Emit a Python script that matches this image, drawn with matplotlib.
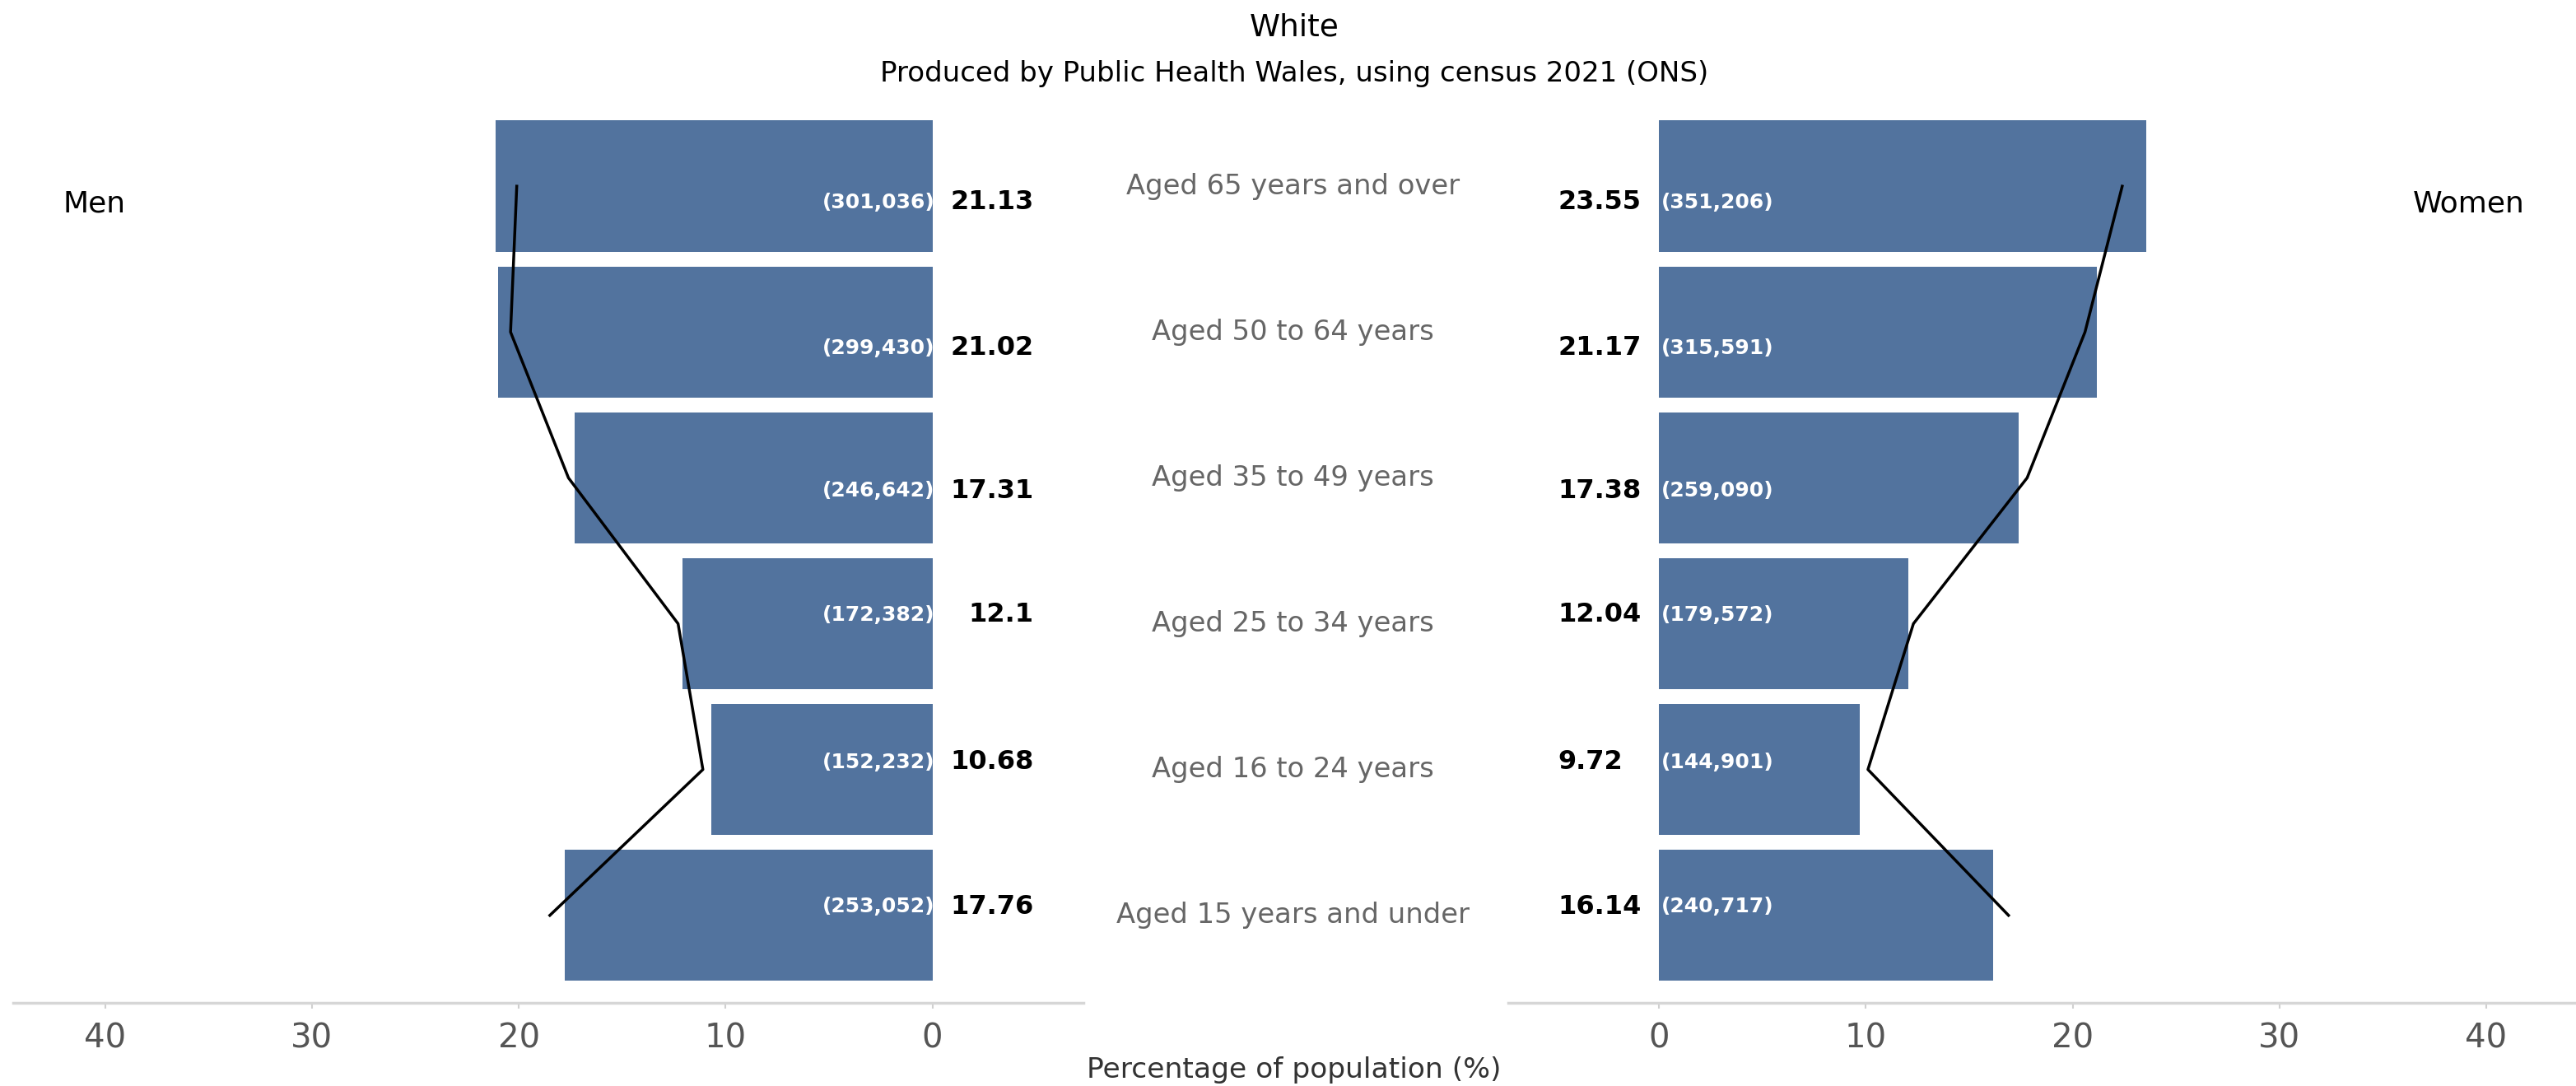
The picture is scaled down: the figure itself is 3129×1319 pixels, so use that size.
import numpy as np
import matplotlib.pyplot as plt
from matplotlib.transforms import blended_transform_factory

# rows listed top to bottom
ages = ["Aged 65 years and over", "Aged 50 to 64 years", "Aged 35 to 49 years",
        "Aged 25 to 34 years", "Aged 16 to 24 years", "Aged 15 years and under"]
men_pct = [21.13, 21.02, 17.31, 12.1, 10.68, 17.76]
men_count = [301036, 299430, 246642, 172382, 152232, 253052]
women_pct = [23.55, 21.17, 17.38, 12.04, 9.72, 16.14]
women_count = [351206, 315591, 259090, 179572, 144901, 240717]
# comparison line (black)
men_line = [20.1, 20.4, 17.6, 12.3, 11.1, 18.5]
women_line = [22.4, 20.6, 17.8, 12.3, 10.1, 16.9]
ticks = [0, 10, 20, 30, 40]

bar_col = "#52739e"
y = np.arange(len(ages))[::-1]
nudge = [-0.11, -0.11, -0.09, 0.06, 0.05, 0.06]  # label offsets seen in the reference

W, H = 3129, 1319
fig = plt.figure(figsize=(W / 100, H / 100), dpi=100)

bottom = (H - 1218) / H
height = (1218 - 137.6) / H
axL = fig.add_axes([16 / W, bottom, 1300 / W, height])
axR = fig.add_axes([1832 / W, bottom, 1297 / W, height])

for ax, pct, cnt, line, side in [(axL, men_pct, men_count, men_line, "L"),
                                 (axR, women_pct, women_count, women_line, "R")]:
    ax.barh(y, pct, height=0.9, color=bar_col)
    ax.plot(line, y, color="black", lw=2.5, zorder=3)
    for yi, p, c, dn in zip(y, pct, cnt, nudge):
        if side == "L":
            ax.text(-0.1, yi + dn, f"({c:,})", ha="right", va="center",
                    color="white", fontsize=18, fontweight="bold")
            ax.text(-4.9, yi + dn, f"{p:g}", ha="right", va="center",
                    color="black", fontsize=23, fontweight="bold")
        else:
            ax.text(0.1, yi + dn, f"({c:,})", ha="left", va="center",
                    color="white", fontsize=18, fontweight="bold")
            ax.text(-4.9, yi + dn, f"{p:g}", ha="left", va="center",
                    color="black", fontsize=23, fontweight="bold")
    ax.set_ylim(-0.6, 5.5)
    ax.set_yticks([])
    ax.set_xticks(ticks)
    ax.tick_params(axis="x", labelsize=29, labelcolor="#555555", color="#d0d0d0",
                   length=5, width=1.5, pad=12)
    for s in ["top", "left", "right"]:
        ax.spines[s].set_visible(False)
    ax.spines["bottom"].set_color("#d6d6d6")
    ax.spines["bottom"].set_linewidth(2.5)

axL.set_xlim(44.45, -7.3)
axR.set_xlim(-7.3, 44.35)

tr = blended_transform_factory(fig.transFigure, axL.transData)
for yi, lab in zip(y, ages):
    axL.text(0.502, yi, lab, transform=tr, ha="center", va="center",
             fontsize=24.3, color="#666666", clip_on=False)

fig.text(76 / W, 1 - 248 / H, "Men", ha="left", va="center", fontsize=26)
fig.text(3067 / W, 1 - 248 / H, "Women", ha="right", va="center", fontsize=26)
fig.text(0.5024, 1 - 34 / H, "White", ha="center", va="center", fontsize=27)
fig.text(0.5024, 1 - 90 / H, "Produced by Public Health Wales, using census 2021 (ONS)",
         ha="center", va="center", fontsize=24.5)
fig.text(0.5024, 1 - 1300 / H, "Percentage of population (%)", ha="center",
         va="center", fontsize=24.8, color="#333333")

fig.savefig("out.png", dpi=100)
